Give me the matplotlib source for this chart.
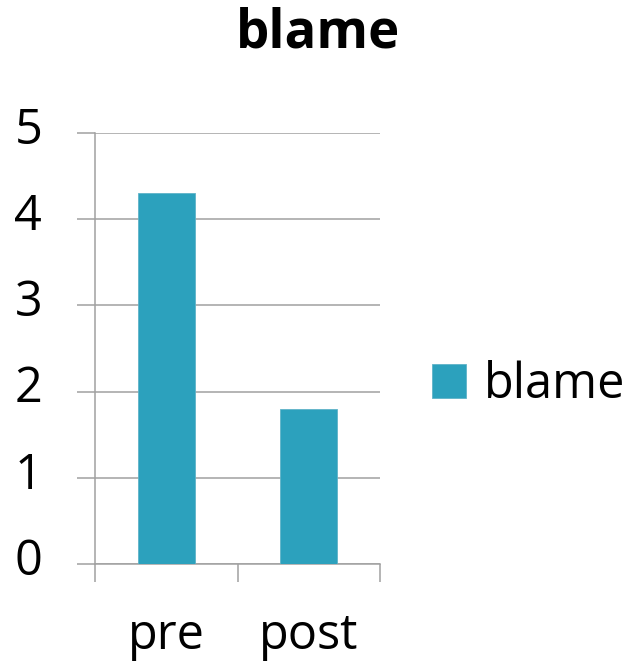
import matplotlib.pyplot as plt
from matplotlib.transforms import ScaledTranslation

plt.rcParams['font.family'] = ['Open Sans', 'DejaVu Sans']

categories = ["pre", "post"]
values = [4.3, 1.8]
series_name = "blame"
y_ticks = [0, 1, 2, 3, 4, 5]

bar_color = "#2ca1bd"
grid_color = "#a0a0a0"

fig = plt.figure(figsize=(6.27, 6.63), dpi=100)
ax = fig.add_axes([95 / 627, 99 / 663, 285 / 627, 431 / 663])

x = list(range(len(categories)))
ax.bar(x, values, width=0.4, color=bar_color, edgecolor="#5fb3c8",
       linewidth=0.6, label=series_name, zorder=3)

ax.set_xlim(-0.5, len(categories) - 0.5)
ax.set_ylim(0, 5)
ax.set_yticks(y_ticks)
ax.yaxis.grid(True, color=grid_color, linewidth=1.1, zorder=0)

# boundaries get tick marks, labels sit at the bar centres
ax.set_xticks([i - 0.5 for i in range(len(categories) + 1)])
ax.set_xticklabels([])
ax.set_xticks(x, minor=True)
ax.set_xticklabels(categories, minor=True)
ax.tick_params(axis="x", which="major", direction="out", length=13,
               width=1.1, color=grid_color)
ax.tick_params(axis="x", which="minor", length=0, pad=34, labelsize=35)
ax.tick_params(axis="y", direction="out", length=13, width=1.1,
               color=grid_color, pad=25, labelsize=35)

# y labels sit a little above their gridlines
shift = ScaledTranslation(0, 8 / 100, fig.dpi_scale_trans)
for lab in ax.get_yticklabels():
    lab.set_transform(lab.get_transform() + shift)

for s in ["top", "right"]:
    ax.spines[s].set_visible(False)
for s in ["left", "bottom"]:
    ax.spines[s].set_color(grid_color)
    ax.spines[s].set_linewidth(1.1)

fig.text(318 / 627, 1 - 48 / 663, "blame", ha="center", va="baseline",
         fontsize=38, fontweight="bold")

fig.legend(loc="center left", bbox_to_anchor=(432 / 627, 1 - 385 / 663),
           frameon=False, fontsize=35, handlelength=0.7, handleheight=0.7,
           handletextpad=0.37, borderpad=0, borderaxespad=0)

fig.savefig("out.png", dpi=100)
